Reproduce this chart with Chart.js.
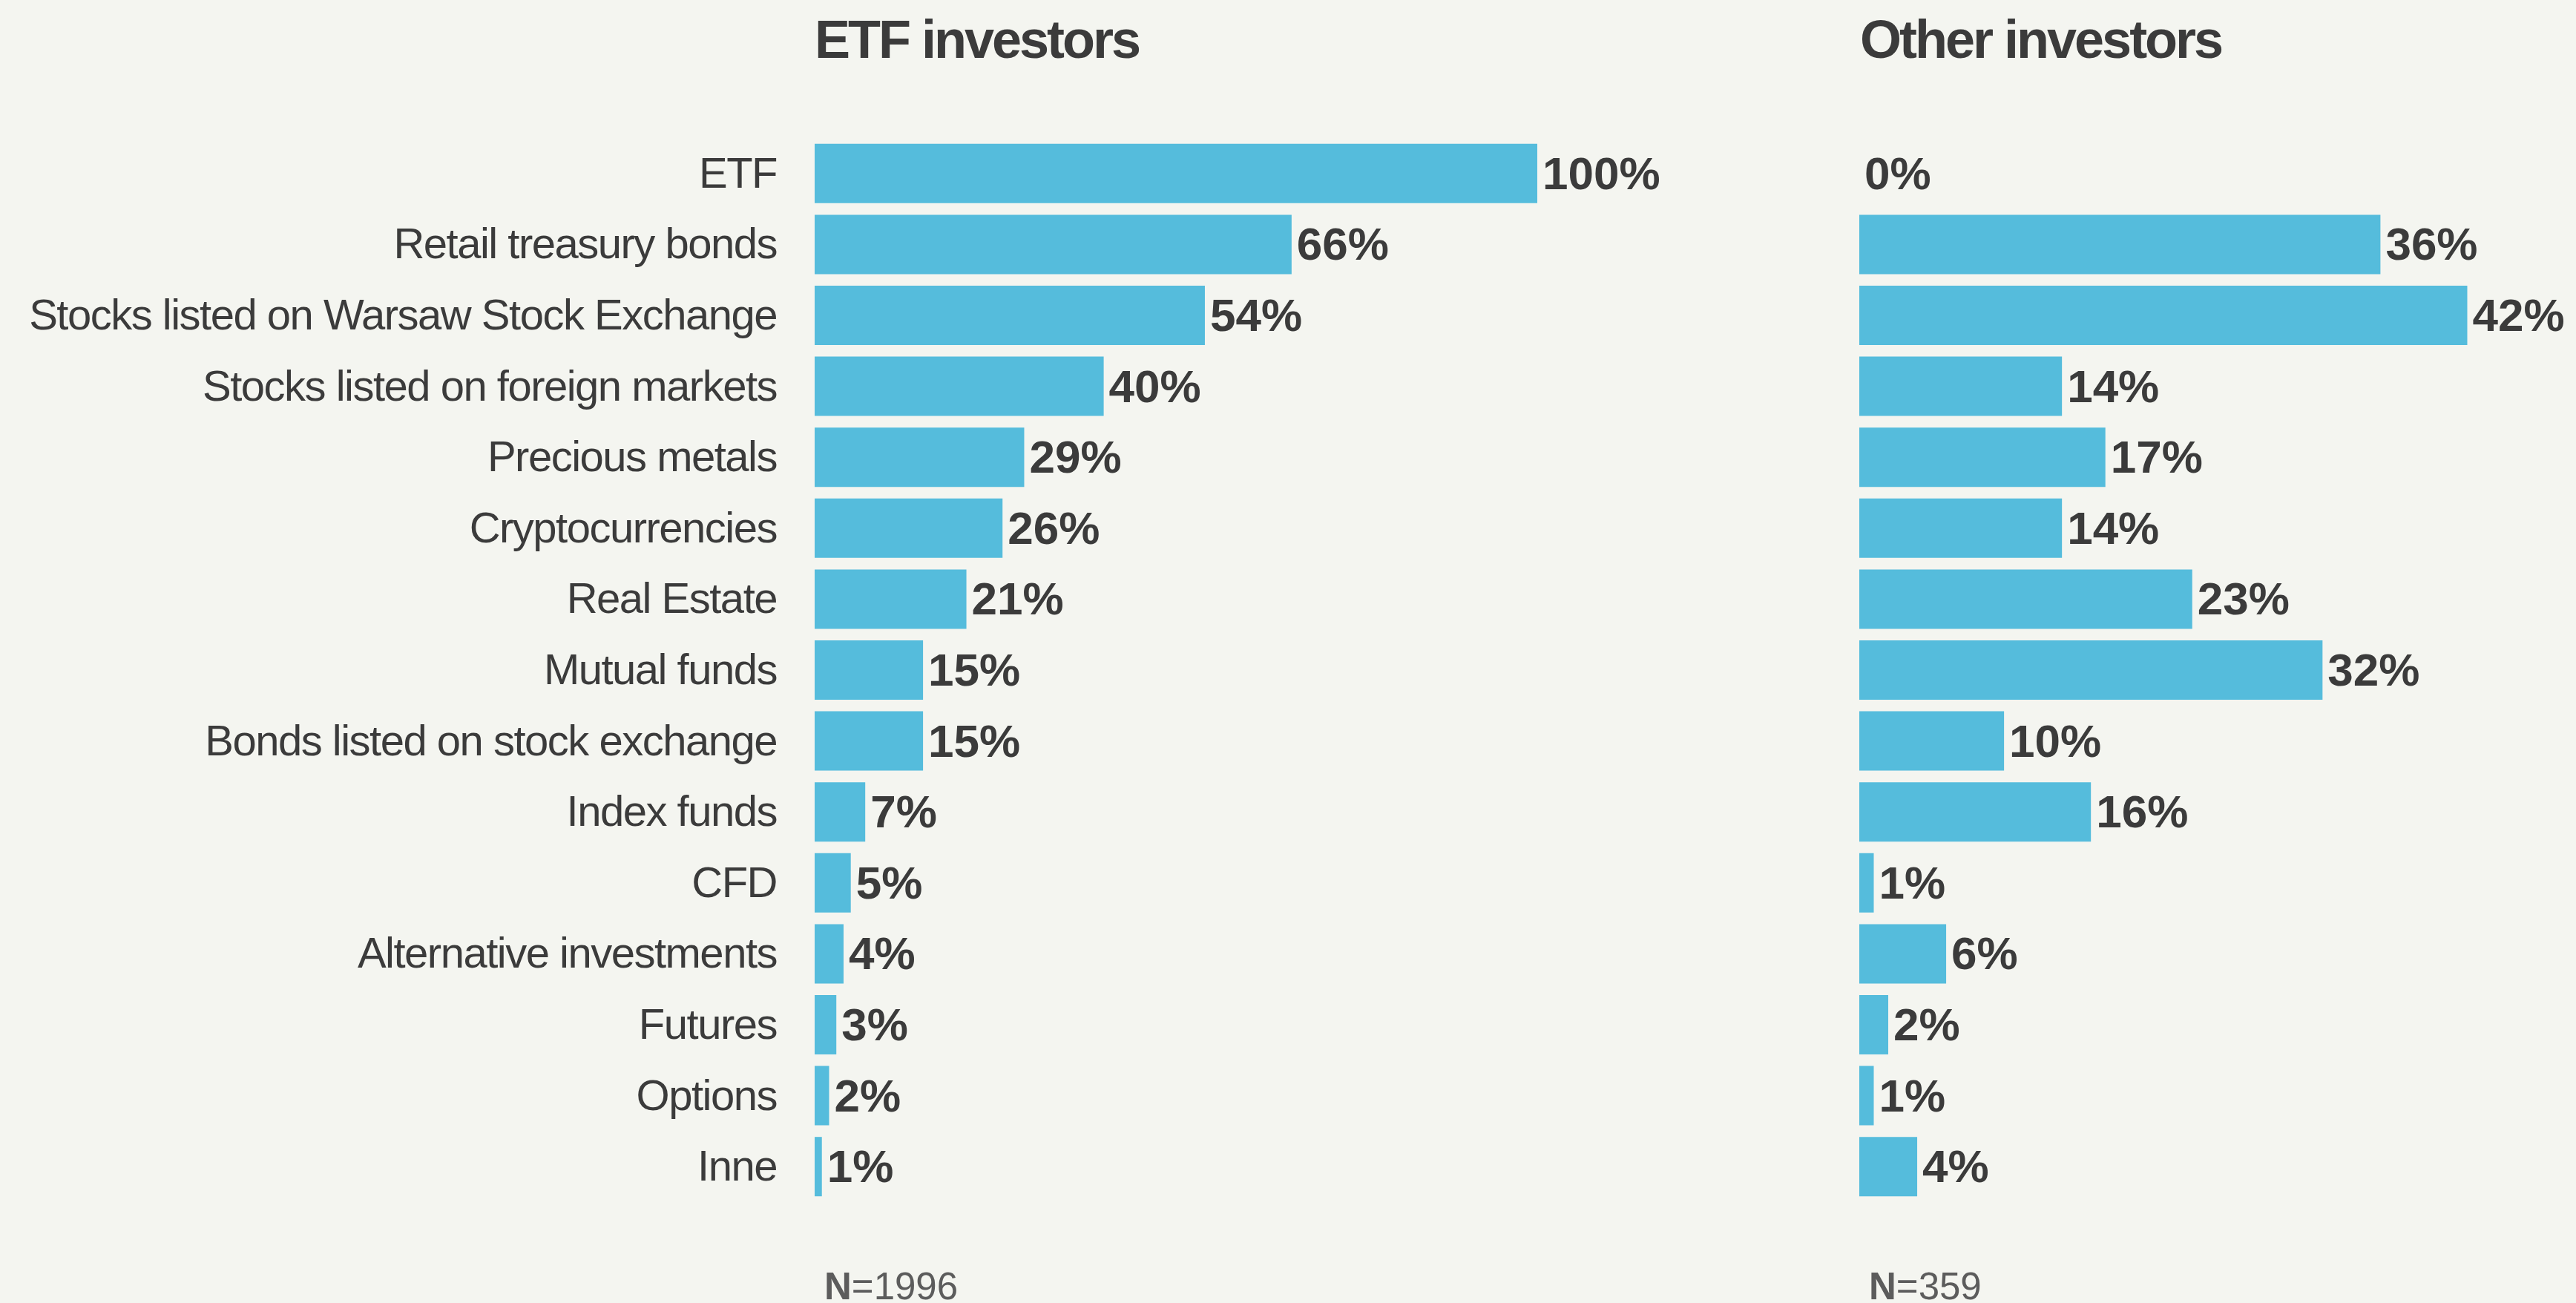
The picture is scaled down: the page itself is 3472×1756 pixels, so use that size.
<!DOCTYPE html>
<html>
<head>
<meta charset="utf-8">
<script src="https://cdn.jsdelivr.net/npm/chart.js@4"></script>
<style>
    body { margin: 0; background: #f4f5f0; overflow: hidden; }
    #page { position: relative; width: 3472px; height: 1756px; background: #f4f5f0; }
    canvas { position: absolute; top: 0; }
    .title {
        position: absolute; top: 17px;
        font: bold 72px/72px "Liberation Sans", Arial, sans-serif;
        letter-spacing: -3px; color: #3b3b3b; white-space: nowrap;
    }
    .note {
        position: absolute; top: 1708px;
        font: 51px/51px "Liberation Sans", Arial, sans-serif;
        color: #5c5c5c; white-space: nowrap;
    }
    .note b { font-weight: bold; }
</style>
</head>
<body>
<div id="page">
    <canvas id="leftChart" width="2300" height="1756" style="left:0"></canvas>
    <canvas id="rightChart" width="1072" height="1756" style="left:2400px"></canvas>
    <div class="title" id="title0" style="left:1098px"></div>
    <div class="title" id="title1" style="left:2507px"></div>
    <div class="note" id="note0" style="left:1111px"></div>
    <div class="note" id="note1" style="left:2519px"></div>
</div>
<script>
const categories = [
    "ETF",
    "Retail treasury bonds",
    "Stocks listed on Warsaw Stock Exchange",
    "Stocks listed on foreign markets",
    "Precious metals",
    "Cryptocurrencies",
    "Real Estate",
    "Mutual funds",
    "Bonds listed on stock exchange",
    "Index funds",
    "CFD",
    "Alternative investments",
    "Futures",
    "Options",
    "Inne"
];
const etfValues = [100, 66, 54, 40, 29, 26, 21, 15, 15, 7, 5, 4, 3, 2, 1];
const otherValues = [0, 36, 42, 14, 17, 14, 23, 32, 10, 16, 1, 6, 2, 1, 4];
const panelTitles = ["ETF investors", "Other investors"];
const sampleSizes = [1996, 359];

const BAR_COLOR = "#55bcdc";
const TEXT_COLOR = "#3b3b3b";

panelTitles.forEach((t, i) => {
    document.getElementById("title" + i).textContent = t;
    document.getElementById("note" + i).innerHTML = "<b>N</b>=" + sampleSizes[i];
});

// procenty na końcu słupków
const valueLabels = {
    id: "valueLabels",
    beforeDraw(chart) {
        chart.ctx.letterSpacing = "-1.5px";
    },
    afterDatasetsDraw(chart) {
        const ctx = chart.ctx;
        const meta = chart.getDatasetMeta(0);
        const data = chart.data.datasets[0].data;
        ctx.save();
        ctx.letterSpacing = "0px";
        ctx.font = 'bold 62px "Liberation Sans", Arial, sans-serif';
        ctx.fillStyle = TEXT_COLOR;
        ctx.textAlign = "left";
        ctx.textBaseline = "alphabetic";
        meta.data.forEach((bar, i) => {
            ctx.fillText(data[i] + "%", bar.x + 7, bar.y + 21);
        });
        ctx.restore();
    }
};

function makeChart(id, values, showLabels, maxX, padding) {
    return new Chart(document.getElementById(id), {
        type: "bar",
        data: {
            labels: categories,
            datasets: [{
                data: values,
                backgroundColor: BAR_COLOR,
                borderWidth: 0,
                barPercentage: 0.837,
                categoryPercentage: 1
            }]
        },
        options: {
            indexAxis: "y",
            responsive: false,
            animation: false,
            devicePixelRatio: 1,
            layout: { padding },
            plugins: {
                legend: { display: false },
                tooltip: { enabled: false }
            },
            scales: {
                x: {
                    display: false,
                    min: 0,
                    max: maxX
                },
                y: {
                    display: showLabels,
                    grid: { display: false, drawTicks: false },
                    border: { display: false },
                    ticks: {
                        padding: 51,
                        labelOffset: 3,
                        color: TEXT_COLOR,
                        font: { family: '"Liberation Sans", Arial, sans-serif', size: 58 }
                    },
                    afterFit(scale) {
                        if (showLabels) scale.width = 1098;
                    }
                }
            }
        },
        plugins: [valueLabels]
    });
}

makeChart("leftChart", etfValues, true, 100, { top: 186, bottom: 136, left: 0, right: 228 });
makeChart("rightChart", otherValues, false, 45, { top: 186, bottom: 136, left: 106, right: 88 });
</script>
</body>
</html>
